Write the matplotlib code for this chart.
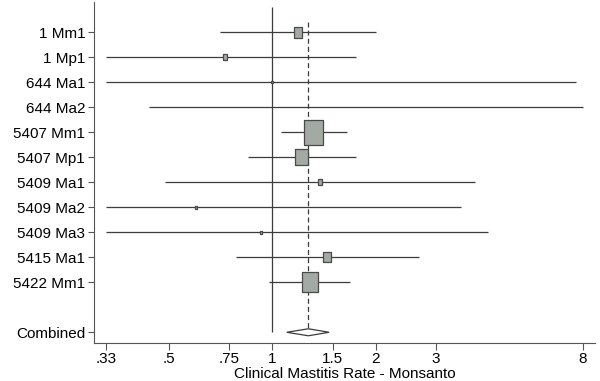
import numpy as np
import matplotlib
matplotlib.use('Agg')
from matplotlib import pyplot as plt
from matplotlib.patches import Polygon

plt.rcParams['font.family'] = ['Liberation Sans', 'DejaVu Sans']

studies = ['1 Mm1', '1 Mp1', '644 Ma1', '644 Ma2', '5407 Mm1', '5407 Mp1',
           '5409 Ma1', '5409 Ma2', '5409 Ma3', '5415 Ma1', '5422 Mm1']
estimate = [1.19, 0.73, 1.00, 1.90, 1.32, 1.22, 1.38, 0.60, 0.93, 1.445, 1.29]
ci_low = [0.706, 0.33, 0.33, 0.439, 1.06, 0.85, 0.488, 0.33, 0.33, 0.786, 0.982]
ci_high = [2.0, 1.75, 7.65, 8.0, 1.65, 1.755, 3.89, 3.54, 4.24, 2.67, 1.69]
weight = [7.6, 2.2, 0.25, 0.0, 39.0, 16.6, 2.0, 0.6, 0.6, 6.2, 25.0]

combined_label = 'Combined'
combined_est = 1.275
combined_low = 1.103
combined_high = 1.465

tick_values = [0.33, 0.5, 0.75, 1, 1.5, 2, 3, 8]
tick_labels = ['.33', '.5', '.75', '1', '1.5', '2', '3', '8']

line_col = '#3c3c3c'

fig = plt.figure(figsize=(6.0, 3.81), dpi=100)
ax = fig.add_axes([0.157, 0.099, 0.835, 0.896])
ax.set_xscale('log')

rows = np.arange(1, len(studies) + 1)
combined_row = len(studies) + 2

# reference line at 1 and dashed line at the pooled estimate
ax.vlines(1, 0, combined_row, color=line_col, lw=0.9)
ax.vlines(combined_est, 0.6, combined_row - 0.14, color=line_col, lw=0.9,
          linestyles=(0, (4, 2.5)))

# confidence intervals
ax.hlines(rows, ci_low, ci_high, color=line_col, lw=0.9)

# weighted boxes (a bit taller than wide, like the original)
box = [(-0.385, -0.5), (0.385, -0.5), (0.385, 0.5), (-0.385, 0.5), (-0.385, -0.5)]
w = np.array(weight)
sizes = (2.88 * np.sqrt(w)) ** 2
ax.scatter(estimate, rows, s=sizes, marker=box, facecolor='#a3aaa3',
           edgecolor='#4a4a4a', linewidths=0.9, zorder=3)

# pooled diamond
dia = Polygon([(combined_low, combined_row), (combined_est, combined_row - 0.14),
               (combined_high, combined_row), (combined_est, combined_row + 0.14)],
              closed=True, facecolor='white', edgecolor=line_col, lw=0.9, zorder=3)
ax.add_patch(dia)

ax.set_xlim(0.304, 8.7)
ax.set_ylim(13.44, -0.21)

ax.set_yticks(list(rows) + [combined_row])
ax.set_yticklabels(studies + [combined_label], fontsize=11)
ax.set_xticks(tick_values)
ax.set_xticklabels(tick_labels, fontsize=11)
ax.minorticks_off()
ax.tick_params(axis='y', length=4.5, width=0.8, color='#555555', pad=2)
ax.tick_params(axis='x', length=5, width=0.8, color='#555555', pad=1)
ax.set_xlabel('Clinical Mastitis Rate - Monsanto', fontsize=11, labelpad=1)

for side in ['top', 'right']:
    ax.spines[side].set_visible(False)
for side in ['left', 'bottom']:
    ax.spines[side].set_color('#555555')
    ax.spines[side].set_linewidth(0.8)

fig.savefig('out.png', dpi=100)
